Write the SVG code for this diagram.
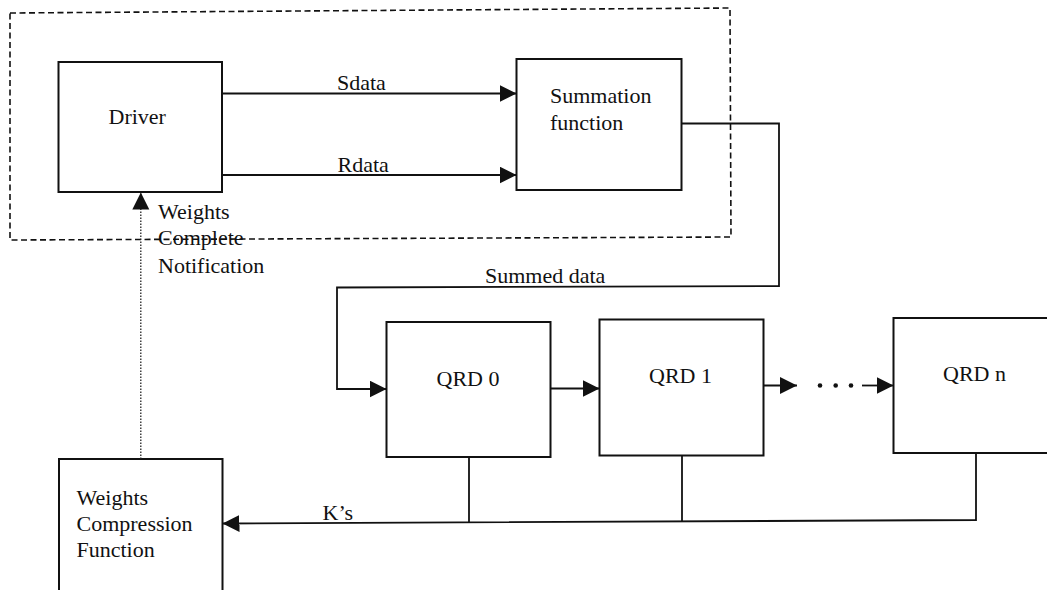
<svg xmlns="http://www.w3.org/2000/svg" width="1047" height="590" viewBox="0 0 1047 590">
  <style>
    .box { fill: #fff; stroke: #111; stroke-width: 2; }
    .wire { fill: none; stroke: #111; stroke-width: 1.8; }
    .dots { fill: none; stroke: #222; stroke-width: 1.3; stroke-dasharray: 1.5 1.5; }
    .frame { fill: none; stroke: #111; stroke-width: 1.6; stroke-dasharray: 6 3.5; }
    text { font-family: "Liberation Serif", "Times New Roman", serif; font-size: 22px; fill: #111; }
  </style>
  <defs>
    <marker id="arrow" markerUnits="userSpaceOnUse" markerWidth="18" markerHeight="18" refX="17" refY="8.5" orient="auto">
      <path d="M0,0 L17,8.5 L0,17 Z" fill="#111"/>
    </marker>
  </defs>
  <rect width="1047" height="590" fill="#fff"/>

  <!-- dashed boundary around driver and summation stage -->
  <path class="frame" d="M10,13 L730,8 L731,237 L10,240 Z"/>

  <g id="driver">
    <rect class="box" x="58.5" y="62" width="163.5" height="130"/>
    <text x="108.5" y="124">Driver</text>
  </g>

  <g id="summation">
    <rect class="box" x="516.5" y="59" width="165" height="131"/>
    <text x="550" y="103">Summation</text>
    <text x="550" y="130">function</text>
  </g>

  <g id="qrd0">
    <rect class="box" x="386.5" y="322" width="164" height="135"/>
    <text x="436.5" y="386">QRD 0</text>
  </g>

  <g id="qrd1">
    <rect class="box" x="599.5" y="319.5" width="164" height="136"/>
    <text x="649" y="383">QRD 1</text>
  </g>

  <g id="qrdn">
    <rect class="box" x="893.5" y="318" width="170" height="135"/>
    <text x="943" y="381">QRD n</text>
  </g>

  <g id="weights-compression">
    <rect class="box" x="59" y="459" width="163.5" height="150"/>
    <text x="76.5" y="505">Weights</text>
    <text x="76.5" y="531">Compression</text>
    <text x="76.5" y="557">Function</text>
  </g>

  <g id="connectors">
    <!-- driver to summation -->
    <line class="wire" x1="222" y1="93.5" x2="516.5" y2="93.5" marker-end="url(#arrow)"/>
    <line class="wire" x1="222" y1="175" x2="516.5" y2="175" marker-end="url(#arrow)"/>
    <!-- summed data into the QRD chain -->
    <polyline class="wire" points="681.5,123.5 779,123.5 779,286 337,287.5 337,389 386.5,389" marker-end="url(#arrow)"/>
    <!-- QRD chain -->
    <line class="wire" x1="550.5" y1="388.5" x2="599.5" y2="388.5" marker-end="url(#arrow)"/>
    <line class="wire" x1="763.5" y1="385.5" x2="797" y2="385.5" marker-end="url(#arrow)"/>
    <circle cx="820" cy="385.5" r="2.3" fill="#111"/>
    <circle cx="835.7" cy="385.5" r="2.3" fill="#111"/>
    <circle cx="851" cy="385.5" r="2.3" fill="#111"/>
    <line class="wire" x1="862" y1="385.5" x2="893.5" y2="385.5" marker-end="url(#arrow)"/>
    <!-- K's bus back to weights compression -->
    <polyline class="wire" points="976,453 976,520 222.5,523.5" marker-end="url(#arrow)"/>
    <line class="wire" x1="469" y1="457" x2="469" y2="522.3"/>
    <line class="wire" x1="682" y1="455.5" x2="682" y2="521.3"/>
    <!-- completion notification -->
    <line class="dots" x1="140.8" y1="459" x2="140.8" y2="192.5" marker-end="url(#arrow)"/>
  </g>

  <g id="labels">
    <text x="337" y="90">Sdata</text>
    <text x="337.5" y="171.5">Rdata</text>
    <text x="485" y="283">Summed data</text>
    <text x="322.5" y="520">K’s</text>
    <text x="158" y="219">Weights</text>
    <text x="158" y="245">Complete</text>
    <text x="158" y="273">Notification</text>
  </g>
</svg>
